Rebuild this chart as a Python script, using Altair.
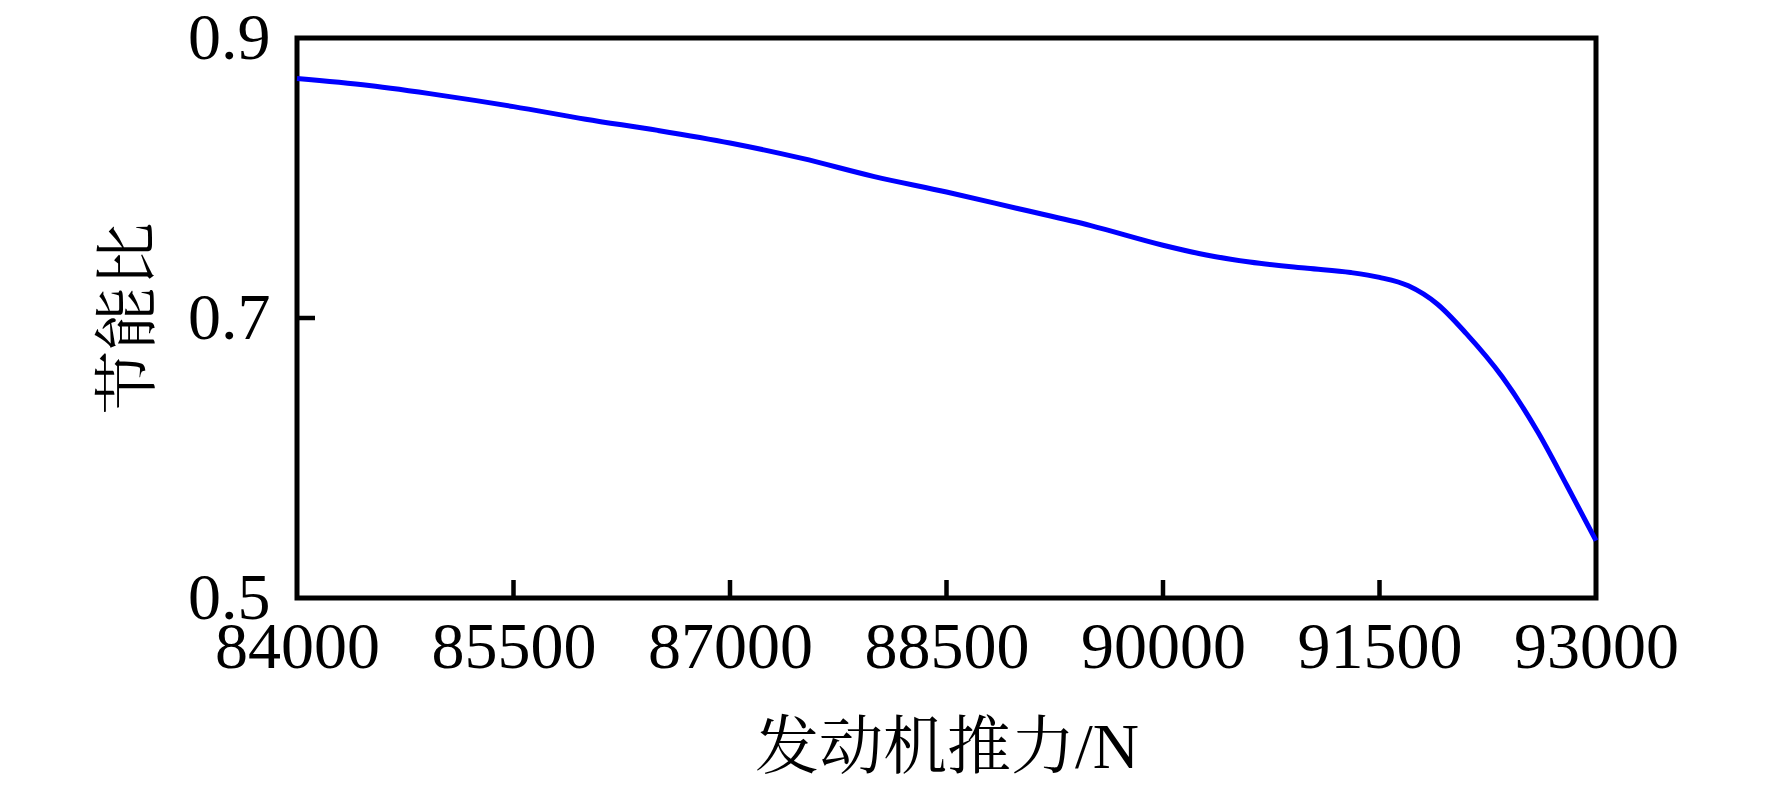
import altair as alt
import pandas as pd

# Data
thrust = [84000, 84500, 85000, 85500, 86000, 86500, 87000, 87500, 88000, 88500,
          89000, 89500, 90000, 90300, 90600, 91000, 91300, 91500, 91700, 91900,
          92100, 92350, 92600, 92800, 93000]
ratio = [0.871, 0.866, 0.859, 0.851, 0.842, 0.834, 0.825, 0.814, 0.801, 0.790,
         0.778, 0.766, 0.752, 0.745, 0.740, 0.7355, 0.7325, 0.729, 0.723, 0.710,
         0.689, 0.658, 0.618, 0.580, 0.541]
x_ticks = [84000, 85500, 87000, 88500, 90000, 91500, 93000]
y_ticks = [0.5, 0.7, 0.9]

x_title = "发动机推力/N"
y_title = "节能比"

FONT = "Liberation Serif, Noto Serif CJK SC, Noto Sans CJK SC"

df = pd.DataFrame({"thrust": thrust, "ratio": ratio})
xt = pd.DataFrame({"thrust": x_ticks[1:-1]})
yt = pd.DataFrame({"ratio": y_ticks[1:-1]})

x_scale = alt.Scale(domain=[x_ticks[0], x_ticks[-1]], nice=False, zero=False)
y_scale = alt.Scale(domain=[y_ticks[0], y_ticks[-1]], nice=False, zero=False)

W, H = 1299, 560
TICK = 18

line = alt.Chart(df).mark_line(color="#0000FF", strokeWidth=5, interpolate="monotone").encode(
    x=alt.X("thrust:Q", scale=x_scale,
            axis=alt.Axis(values=x_ticks, format="d", title=x_title,
                          labelPadding=17, titlePadding=36, labelFlush=False)),
    y=alt.Y("ratio:Q", scale=y_scale,
            axis=alt.Axis(values=y_ticks, format=".1f", title=y_title,
                          labelPadding=27, titlePadding=26, labelFlush=False)),
)

xtick = alt.Chart(xt).mark_rule(color="black", strokeWidth=4.5).encode(
    x=alt.X("thrust:Q", scale=x_scale, title=x_title),
    y=alt.value(H - TICK),
    y2=alt.value(H),
)

ytick = alt.Chart(yt).mark_rule(color="black", strokeWidth=4.5).encode(
    y=alt.Y("ratio:Q", scale=y_scale, title=y_title),
    x=alt.value(0),
    x2=alt.value(TICK),
)

chart = alt.layer(xtick, ytick, line).properties(
    width=W,
    height=H,
    autosize=alt.AutoSizeParams(type="none"),
    padding={"left": 289, "top": 30, "right": 150, "bottom": 184},
    background="white",
).configure_view(
    stroke="black", strokeWidth=5,
).configure_axis(
    domain=False, ticks=False, tickSize=0, grid=False,
    labelFont=FONT, labelFontSize=66, labelColor="black",
    titleFont=FONT, titleFontSize=64, titleFontWeight="normal", titleColor="black",
    labelOverlap=False,
)

chart.save("out.html", embed_options={"renderer": "svg", "actions": False})
